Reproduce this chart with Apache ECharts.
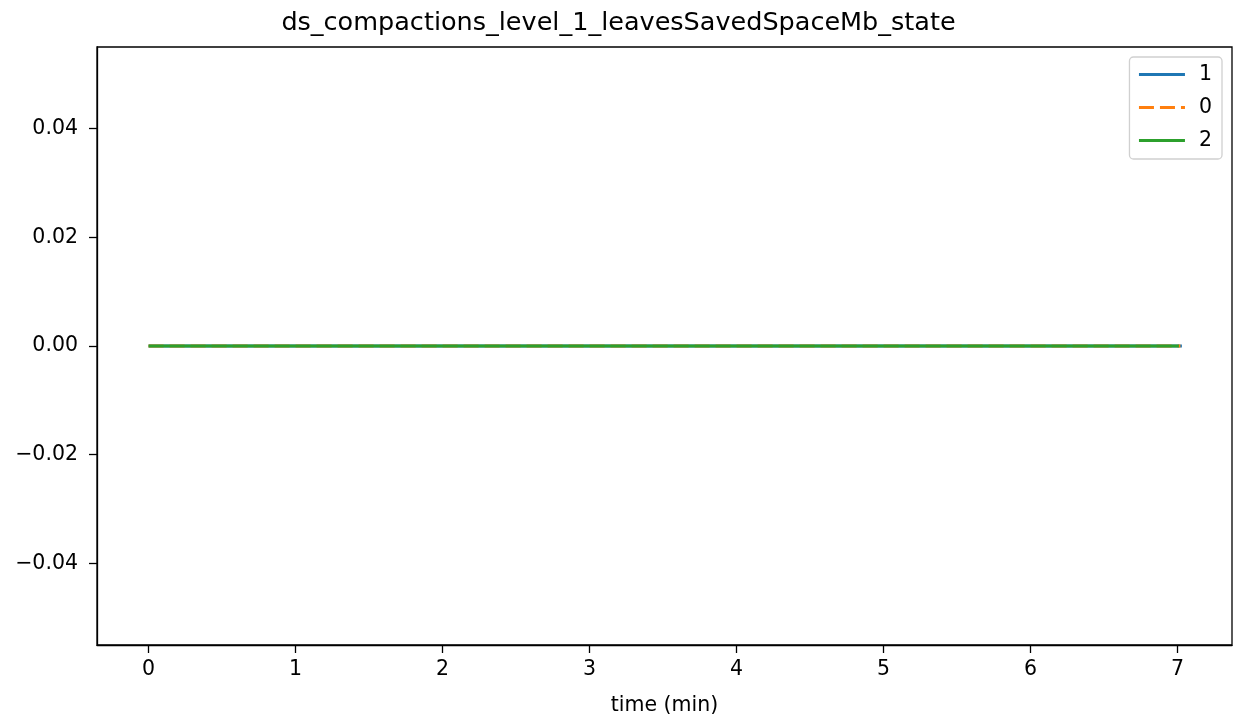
<!DOCTYPE html>
<html>
<head>
<meta charset="utf-8">
<script src="https://cdn.jsdelivr.net/npm/echarts@6/dist/echarts.min.js"></script>
<style>html,body{margin:0;padding:0;background:#fff}#c{width:1237px;height:723px}</style>
</head>
<body>
<div id="c"></div>
<script>
const title = "ds_compactions_level_1_leavesSavedSpaceMb_state";
const seriesNames = ["1", "0", "2"];
const time1 = [0, 0.5, 1, 1.5, 2, 2.5, 3, 3.5, 4, 4.5, 5, 5.5, 6, 6.5, 7.03];
const values1 = [0, 0, 0, 0, 0, 0, 0, 0, 0, 0, 0, 0, 0, 0, 0];
const time0 = [0, 0.5, 1, 1.5, 2, 2.5, 3, 3.5, 4, 4.5, 5, 5.5, 6, 6.5, 7.02];
const values0 = [0, 0, 0, 0, 0, 0, 0, 0, 0, 0, 0, 0, 0, 0, 0];
const time2 = [0, 0.5, 1, 1.5, 2, 2.5, 3, 3.5, 4, 4.5, 5, 5.5, 6, 6.5, 7.01];
const values2 = [0, 0, 0, 0, 0, 0, 0, 0, 0, 0, 0, 0, 0, 0, 0];
const xTicks = [0, 1, 2, 3, 4, 5, 6, 7];
const yTicks = [-0.04, -0.02, 0, 0.02, 0.04];

const colors = ["#1f77b4", "#ff7f0e", "#2ca02c"];
const font = "DejaVu Sans";
const zip = (t, v) => t.map((x, i) => [x, v[i]]);

const chart = echarts.init(document.getElementById('c'), null, {renderer: 'canvas'});
chart.setOption({
  animation: false,
  backgroundColor: '#fff',
  title: {
    text: title, left: 'center', top: 5,
    textStyle: {fontFamily: font, fontSize: 25.5, fontWeight: 'normal', color: '#000'}
  },
  grid: {left: 97, right: 5, top: 47, bottom: 78, show: true, borderColor: '#000', borderWidth: 1.3,
    outerBoundsMode: 'none', containLabel: false},
  legend: {
    right: 15, top: 57, orient: 'vertical',
    data: seriesNames,
    itemWidth: 46, itemHeight: 12, itemGap: 12,
    padding: [7, 10, 8, 8],
    borderColor: '#d0d0d0', borderWidth: 1.3, borderRadius: 4,
    backgroundColor: '#fff',
    itemStyle: {opacity: 0},
    lineStyle: {width: 3},
    textStyle: {fontFamily: font, fontSize: 20.5, color: '#000', padding: [0, 0, 0, 9]}
  },
  xAxis: {
    type: 'value', min: -0.351, max: 7.371,
    name: 'time (min)', nameLocation: 'middle', nameGap: 50,
    nameTextStyle: {fontFamily: font, fontSize: 20.5, color: '#000'},
    axisLine: {show: true, onZero: false, lineStyle: {color: '#000', width: 1.3}},
    axisTick: {show: true, length: 8, lineStyle: {color: '#000', width: 1.3}, customValues: xTicks},
    axisLabel: {fontFamily: font, fontSize: 20.5, color: '#000', margin: 14, customValues: xTicks,
      formatter: v => String(v)},
    splitLine: {show: false}
  },
  yAxis: {
    type: 'value', min: -0.055, max: 0.055,
    axisLine: {show: true, onZero: false, lineStyle: {color: '#000', width: 1.3}},
    axisTick: {show: true, length: 8, lineStyle: {color: '#000', width: 1.3}, customValues: yTicks},
    axisLabel: {fontFamily: font, fontSize: 20.5, color: '#000', margin: 19, customValues: yTicks,
      formatter: v => v.toFixed(2).replace('-', '\u2212')},
    splitLine: {show: false}
  },
  series: [
    {name: seriesNames[0], type: 'line', data: zip(time1, values1), showSymbol: false, symbol: 'none',
     color: colors[0], lineStyle: {width: 3, color: colors[0]}},
    {name: seriesNames[1], type: 'line', data: zip(time0, values0), showSymbol: false, symbol: 'none',
     color: colors[1], lineStyle: {width: 3, color: colors[1], type: [15, 6]}},
    {name: seriesNames[2], type: 'line', data: zip(time2, values2), showSymbol: false, symbol: 'none',
     color: colors[2], lineStyle: {width: 3, color: colors[2]}}
  ]
});
</script>
</body>
</html>
